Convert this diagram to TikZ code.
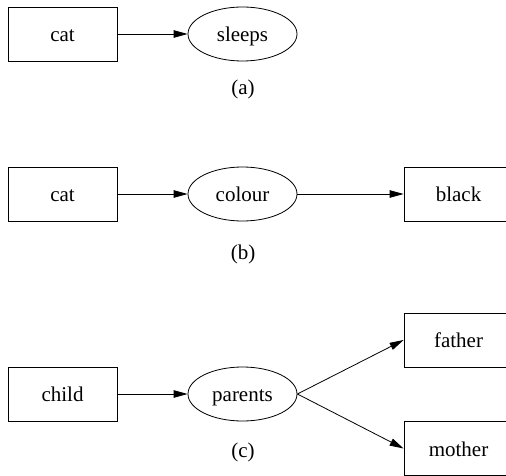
\documentclass[tikz,border=0pt]{standalone}
\usepackage{fontspec}
\setmainfont{Liberation Serif}
\usetikzlibrary{shapes.geometric,arrows.meta}
\begin{document}
\begin{tikzpicture}[x=1pt,y=-1pt,
  every node/.style={font=\fontsize{21}{25}\selectfont},
  box/.style={draw,line width=0.8pt,rectangle,minimum width=109pt,minimum height=54pt,inner sep=0pt,text height=15.5pt,text depth=0pt},
  rel/.style={draw,line width=0.8pt,ellipse,minimum width=109pt,minimum height=54pt,inner sep=0pt,text height=15.5pt,text depth=0pt},
  caption/.style={inner sep=0pt},
  edge/.style={line width=0.8pt,-{Triangle[length=14pt,width=7.5pt]}}]
\useasboundingbox (0,0) rectangle (506,476);

% (a) cat -> sleeps
\node[box] (catA) at (62.5,34) {cat};
\node[rel] (sleeps) at (242.5,34) {sleeps};
\node[caption] (capA) at (243,89) {(a)};
\draw[edge] (catA) -- (sleeps);

% (b) cat -> colour -> black
\node[box] (catB) at (62.5,194) {cat};
\node[rel] (colour) at (242.5,194) {colour};
\node[box] (black) at (458.5,194) {black};
\node[caption] (capB) at (243,254) {(b)};
\draw[edge] (catB) -- (colour);
\draw[edge] (colour) -- (black);

% (c) child -> parents -> father, mother
\node[box] (child) at (62.5,394) {child};
\node[rel] (parents) at (242.5,394) {parents};
\node[box] (father) at (458.5,340) {father};
\node[box] (mother) at (458.5,448.5) {mother};
\node[caption] (capC) at (243,452) {(c)};
\draw[edge] (child) -- (parents);
\draw[edge] (parents.east) -- (father.west);
\draw[edge] (parents.east) -- (mother.west);
\end{tikzpicture}
\end{document}
